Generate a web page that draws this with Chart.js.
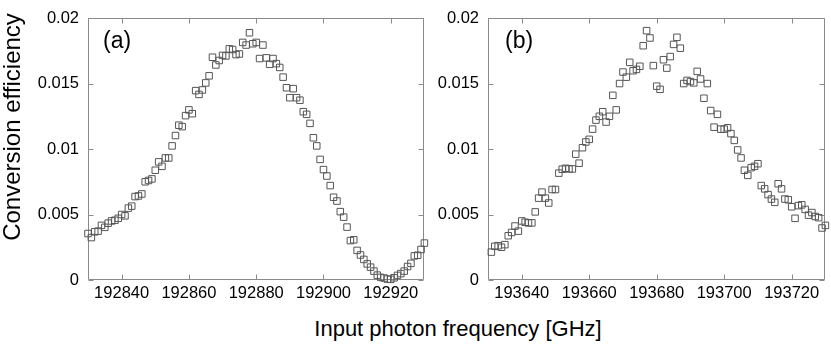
<!DOCTYPE html>
<html>
<head>
<meta charset="utf-8">
<script src="https://cdn.jsdelivr.net/npm/chart.js@4"></script>
<style>
  body { margin: 0; background: #fff; }
  #wrap { position: relative; width: 831px; height: 344px; overflow: hidden; background: #fff;
          font-family: "Liberation Sans", Arial, sans-serif; color: #000; }
  canvas { position: absolute; top: 0; }
  #chartA { left: 0; }
  #chartB { left: 430px; }
  .ytitle { position: absolute; left: -138px; top: 113px; width: 300px; height: 28px; line-height: 28px;
            text-align: center; font-size: 24px; transform: rotate(-90deg); white-space: nowrap; }
  .xtitle { position: absolute; left: 308px; width: 300px; top: 317px; line-height: 24px;
            text-align: center; font-size: 22px; white-space: nowrap; }
</style>
</head>
<body>
<div id="wrap">
  <canvas id="chartA" width="430" height="310"></canvas>
  <canvas id="chartB" width="401" height="310"></canvas>
  <div class="ytitle">Conversion efficiency</div>
  <div class="xtitle">Input photon frequency [GHz]</div>
</div>
<script>
// panel (a)
const freqA = [
  192830, 192831, 192832, 192833, 192834, 192835, 192836, 192837, 192838, 192839,
  192840, 192841, 192842, 192843, 192844, 192845, 192846, 192847, 192848, 192849,
  192850, 192851, 192852, 192853, 192854, 192855, 192856, 192857, 192858, 192859,
  192860, 192861, 192862, 192863, 192864, 192865, 192866, 192867, 192868, 192869,
  192870, 192871, 192872, 192873, 192874, 192875, 192876, 192877, 192878, 192879,
  192880, 192881, 192882, 192883, 192884, 192885, 192886, 192887, 192888, 192889,
  192890, 192891, 192892, 192893, 192894, 192895, 192896, 192897, 192898, 192899,
  192900, 192901, 192902, 192903, 192904, 192905, 192906, 192907, 192908, 192909,
  192910, 192911, 192912, 192913, 192914, 192915, 192916, 192917, 192918, 192919,
  192920, 192921, 192922, 192923, 192924, 192925, 192926, 192927, 192928, 192929,
  192930
];
const effA = [
  0.00355, 0.00324, 0.00368, 0.00373, 0.00417, 0.00402, 0.00434, 0.00451, 0.00456, 0.00471,
  0.00500, 0.00490, 0.00549, 0.00564, 0.00637, 0.00642, 0.00657, 0.00750, 0.00760, 0.00772,
  0.00838, 0.00902, 0.00868, 0.00932, 0.00932, 0.01024, 0.01103, 0.01182, 0.01171, 0.01255,
  0.01299, 0.01270, 0.01446, 0.01417, 0.01451, 0.01505, 0.01559, 0.01701, 0.01642, 0.01676,
  0.01715, 0.01711, 0.01765, 0.01760, 0.01721, 0.01726, 0.01814, 0.01794, 0.01888, 0.01804,
  0.01814, 0.01691, 0.01794, 0.01696, 0.01647, 0.01691, 0.01652, 0.01623, 0.01549, 0.01468,
  0.01392, 0.01461, 0.01392, 0.01373, 0.01285, 0.01265, 0.01196, 0.01086, 0.01024, 0.00921,
  0.00843, 0.00794, 0.00721, 0.00632, 0.00603, 0.00522, 0.00480, 0.00404, 0.00301, 0.00307,
  0.00226, 0.00191, 0.00157, 0.00123, 0.00098, 0.00068, 0.00037, 0.00020, 0.00015, 0.00007,
  0.00005, 0.00017, 0.00035, 0.00049, 0.00068, 0.00103, 0.00127, 0.00184, 0.00189, 0.00233,
  0.00282
];

// panel (b)
const freqB = [
  193631, 193632, 193633, 193634, 193635, 193636, 193637, 193638, 193639, 193640,
  193641, 193642, 193643, 193644, 193645, 193646, 193647, 193648, 193649, 193650,
  193651, 193652, 193653, 193654, 193655, 193656, 193657, 193658, 193659, 193660,
  193661, 193662, 193663, 193664, 193665, 193666, 193667, 193668, 193669, 193670,
  193671, 193672, 193673, 193674, 193675, 193676, 193677, 193678, 193679, 193680,
  193681, 193682, 193683, 193684, 193685, 193686, 193687, 193688, 193689, 193690,
  193691, 193692, 193693, 193694, 193695, 193696, 193697, 193698, 193699, 193700,
  193701, 193702, 193703, 193704, 193705, 193706, 193707, 193708, 193709, 193710,
  193711, 193712, 193713, 193714, 193715, 193716, 193717, 193718, 193719, 193720,
  193721, 193722, 193723, 193724, 193725, 193726, 193727, 193728, 193729, 193730
];
const effB = [
  0.00213, 0.00257, 0.00262, 0.00250, 0.00270, 0.00338, 0.00363, 0.00412, 0.00373, 0.00451,
  0.00441, 0.00436, 0.00436, 0.00520, 0.00625, 0.00671, 0.00625, 0.00588, 0.00691, 0.00691,
  0.00816, 0.00846, 0.00853, 0.00848, 0.00848, 0.00961, 0.00892, 0.01010, 0.01054, 0.01074,
  0.01152, 0.01221, 0.01250, 0.01285, 0.01206, 0.01250, 0.01410, 0.01299, 0.01500, 0.01588,
  0.01549, 0.01662, 0.01598, 0.01608, 0.01632, 0.01789, 0.01904, 0.01848, 0.01637, 0.01480,
  0.01456, 0.01682, 0.01618, 0.01706, 0.01799, 0.01853, 0.01770, 0.01500, 0.01524, 0.01515,
  0.01505, 0.01593, 0.01535, 0.01388, 0.01500, 0.01294, 0.01167, 0.01265, 0.01152, 0.01152,
  0.01162, 0.01118, 0.01066, 0.00993, 0.00932, 0.00838, 0.00799, 0.00858, 0.00868, 0.00888,
  0.00721, 0.00696, 0.00652, 0.00618, 0.00593, 0.00735, 0.00696, 0.00618, 0.00613, 0.00559,
  0.00471, 0.00568, 0.00574, 0.00539, 0.00495, 0.00515, 0.00485, 0.00476, 0.00397, 0.00417
];

const xTicksA = [192840, 192860, 192880, 192900, 192920];
const xTicksB = [193640, 193660, 193680, 193700, 193720];
const yTicks = [0, 0.005, 0.01, 0.015, 0.02];
const yTickLabels = ["0", "0.005", "0.01", "0.015", "0.02"];

const FONT = '"Liberation Sans", Arial, sans-serif';

// gray box with inward ticks on all four sides, plus the panel tag
const frameTicks = {
  id: "frameTicks",
  beforeDatasetsDraw(chart, args, opts) {
    const { ctx, chartArea: a, scales } = chart;
    const l = Math.round(a.left) + 0.5, r = Math.round(a.right) - 0.5;
    const t = Math.round(a.top) + 0.5, b = Math.round(a.bottom) - 0.5;
    const len = 5;
    ctx.save();
    ctx.strokeStyle = "#8a8a8a";
    ctx.lineWidth = 1;
    ctx.beginPath();
    ctx.rect(l, t, r - l, b - t);
    scales.x.ticks.forEach(tk => {
      const x = Math.round(scales.x.getPixelForValue(tk.value)) + 0.5;
      ctx.moveTo(x, b); ctx.lineTo(x, b - len);
      ctx.moveTo(x, t); ctx.lineTo(x, t + len);
    });
    scales.y.ticks.forEach(tk => {
      const y = Math.round(scales.y.getPixelForValue(tk.value)) + 0.5;
      ctx.moveTo(l, y); ctx.lineTo(l + len, y);
      ctx.moveTo(r, y); ctx.lineTo(r - len, y);
    });
    ctx.stroke();
    ctx.fillStyle = "#000";
    ctx.font = "23px " + FONT;
    ctx.textBaseline = "alphabetic";
    ctx.fillText(opts.label, a.left + opts.dx, 48);
    ctx.restore();
  }
};

function makePanel(id, freq, eff, xMin, xMax, xTicks, yWidth, padRight, label, dx) {
  const tickFont = { family: FONT, size: 16.5, lineHeight: 1.1 };
  return new Chart(document.getElementById(id), {
    type: "scatter",
    data: {
      datasets: [{
        data: freq.map((f, i) => ({ x: f, y: eff[i] })),
        pointStyle: "rect",
        pointRadius: 4.6,
        pointBorderWidth: 1,
        borderColor: "#555",
        backgroundColor: "rgba(0,0,0,0)",
        clip: false
      }]
    },
    options: {
      responsive: false,
      animation: false,
      events: [],
      layout: { padding: { left: 0, top: 0, right: padRight, bottom: 0 } },
      plugins: {
        legend: { display: false },
        tooltip: { enabled: false },
        frameTicks: { label: label, dx: dx }
      },
      scales: {
        x: {
          type: "linear",
          min: xMin,
          max: xMax,
          afterBuildTicks: s => { s.ticks = xTicks.map(v => ({ value: v })); },
          afterFit: s => { s.height = 30; },
          grid: { display: false, drawTicks: false },
          border: { display: false },
          ticks: {
            padding: 4, color: "#000", font: tickFont, maxRotation: 0, autoSkip: false,
            callback: v => String(v)
          }
        },
        y: {
          min: 0,
          max: 0.02,
          afterBuildTicks: s => { s.ticks = yTicks.map(v => ({ value: v })); },
          afterFit: s => { s.width = yWidth; },
          grid: { display: false, drawTicks: false },
          border: { display: false },
          ticks: {
            padding: 9, color: "#000", font: tickFont, autoSkip: false,
            callback: v => yTickLabels[yTicks.indexOf(v)]
          }
        }
      }
    },
    plugins: [frameTicks]
  });
}

makePanel("chartA", freqA, effA, 192830, 192930, xTicksA, 88, 2, "(a)", 15);
makePanel("chartB", freqB, effB, 193630, 193730, xTicksB, 58, 3, "(b)", 17);
</script>
</body>
</html>
